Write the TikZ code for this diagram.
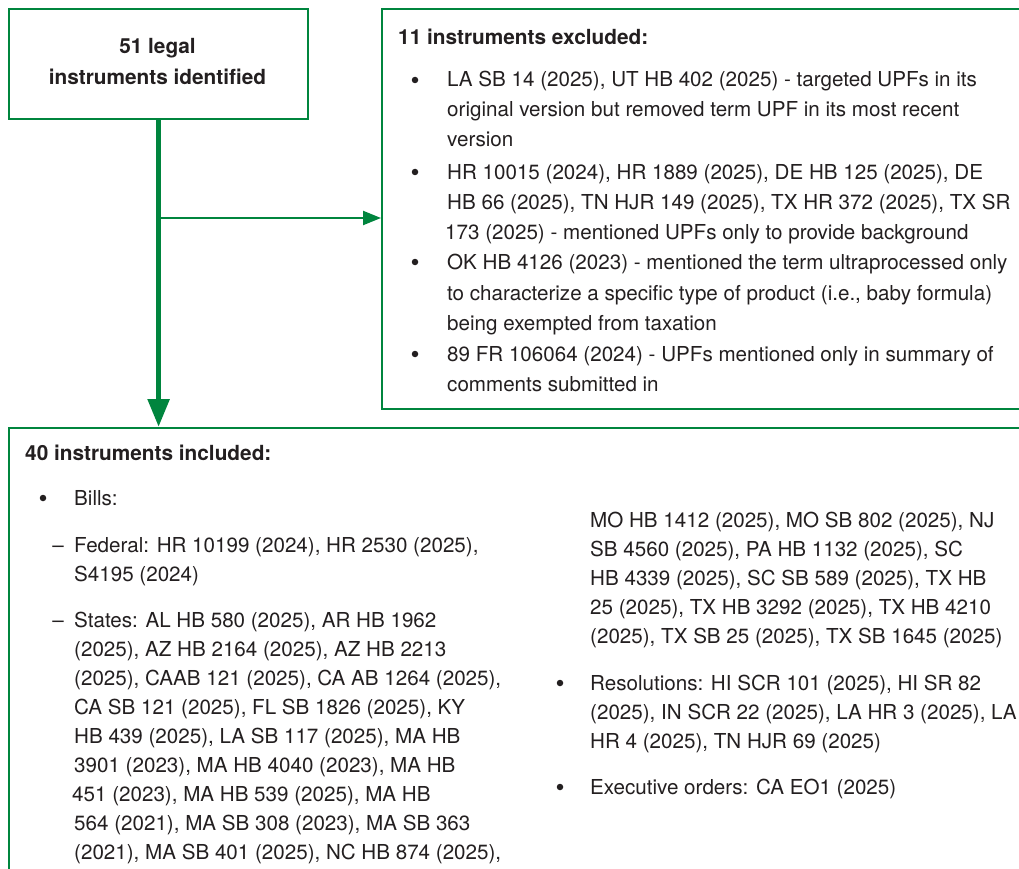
\documentclass[tikz,border=0pt]{standalone}
\usepackage{fontspec}
\setmainfont{TeX Gyre Heros}
\usetikzlibrary{arrows.meta}
\definecolor{boxgreen}{RGB}{0,133,62}
\definecolor{ink}{RGB}{35,31,32}
\newcommand\bodyfont{\fontsize{20.6}{24}\selectfont}
\newcommand\titlefont{\fontsize{20.8}{24}\selectfont\bfseries}
\tikzset{
  box/.style={draw=boxgreen, line width=2.2pt, inner sep=0pt, anchor=north west},
  txt/.style={anchor=base west, inner sep=0pt, font=\bodyfont, text=ink},
  ttl/.style={anchor=base west, inner sep=0pt, font=\titlefont, text=ink},
  bulletsym/.style={circle, fill=ink, inner sep=0pt, minimum size=6.5pt},
  dashsym/.style={anchor=base, inner sep=0pt, font=\bodyfont, text=ink},
  mainarrow/.style={draw=boxgreen, line width=5.5pt, -{Triangle[length=28pt,width=21pt]}},
  sidearrow/.style={draw=boxgreen, line width=2.2pt, -{Triangle[length=18pt,width=14pt]}}
}
\begin{document}
\begin{tikzpicture}[x=1pt,y=-1pt]
\useasboundingbox (0,0) rectangle (1019,869);
\clip (0,0) rectangle (1019,869);
\fill[white] (0,0) rectangle (1019,869);

% boxes
\node[box, minimum width=299pt, minimum height=110pt] (ident) at (8,8) {};
\node[box, minimum width=700pt, minimum height=400pt] (excl) at (381,8) {};
\node[box, minimum width=1100pt, minimum height=500pt] (incl) at (8,427) {};

% identified text
\node[anchor=base, inner sep=0pt, font=\titlefont, text=ink] (id1) at (157.5,54) {51 legal};
\node[anchor=base, inner sep=0pt, font=\titlefont, text=ink] (id2) at (157.5,85) {instruments identified};

% connectors
\coordinate (lvl) at (0,218);
\coordinate (branch) at (ident.south |- lvl);
\draw[mainarrow] (ident.south) -- (ident.south |- incl.north);
\draw[sidearrow] (branch) -- (branch -| excl.west);

% excluded text
\node[ttl] (et) at (398,45) {11 instruments excluded:};
\node[bulletsym] (eb1) at (415,80) {};
\node[bulletsym] (eb2) at (415,172) {};
\node[bulletsym] (eb3) at (415,262) {};
\node[bulletsym] (eb4) at (415,354) {};
\node[txt] (e1) at (447,87) {LA SB 14 (2025), UT HB 402 (2025) - targeted UPFs in its};
\node[txt] (e2) at (447,117) {original version but removed term UPF in its most recent};
\node[txt] (e3) at (447,147) {version};
\node[txt] (e4) at (447,179) {HR 10015 (2024), HR 1889 (2025), DE HB 125 (2025), DE};
\node[txt] (e5) at (447,209) {HB 66 (2025), TN HJR 149 (2025), TX HR 372 (2025), TX SR};
\node[txt] (e6) at (445,239) {173 (2025) - mentioned UPFs only to provide background};
\node[txt] (e7) at (447,269) {OK HB 4126 (2023) - mentioned the term ultraprocessed only};
\node[txt] (e8) at (447,300) {to characterize a specific type of product (i.e., baby formula)};
\node[txt] (e9) at (447,330) {being exempted from taxation};
\node[txt] (e10) at (447,361) {89 FR 106064 (2024) - UPFs mentioned only in summary of};
\node[txt] (e11) at (447,391) {comments submitted in};

% included text
\node[ttl] (it) at (25,460) {40 instruments included:};
\node[bulletsym] (ib1) at (43,498) {};
\node[txt] (i1) at (74,505) {Bills:};
\node[dashsym] (id1m) at (58,552) {–};
\node[txt] (i2) at (74,552) {Federal: HR 10199 (2024), HR 2530 (2025),};
\node[txt] (i3) at (74,581) {S4195 (2024)};
\node[dashsym] (id2m) at (58,627) {–};
\node[txt] (i4) at (74,627) {States: AL HB 580 (2025), AR HB 1962};
\node[txt] (i5) at (74,656) {(2025), AZ HB 2164 (2025), AZ HB 2213};
\node[txt] (i6) at (74,685) {(2025), CAAB 121 (2025), CA AB 1264 (2025),};
\node[txt] (i7) at (74,714) {CA SB 121 (2025), FL SB 1826 (2025), KY};
\node[txt] (i8) at (74,743) {HB 439 (2025), LA SB 117 (2025), MA HB};
\node[txt] (i9) at (74,772) {3901 (2023), MA HB 4040 (2023), MA HB};
\node[txt] (i10) at (72,801) {451 (2023), MA HB 539 (2025), MA HB};
\node[txt] (i11) at (74,830) {564 (2021), MA SB 308 (2023), MA SB 363};
\node[txt] (i12) at (74,859) {(2021), MA SB 401 (2025), NC HB 874 (2025),};

\node[txt] (r1) at (590,527) {MO HB 1412 (2025), MO SB 802 (2025), NJ};
\node[txt] (r2) at (590,556) {SB 4560 (2025), PA HB 1132 (2025), SC};
\node[txt] (r3) at (590,585) {HB 4339 (2025), SC SB 589 (2025), TX HB};
\node[txt] (r4) at (590,614) {25 (2025), TX HB 3292 (2025), TX HB 4210};
\node[txt] (r5) at (590,643) {(2025), TX SB 25 (2025), TX SB 1645 (2025)};
\node[bulletsym] (rb1) at (560,683) {};
\node[txt] (r6) at (590,690) {Resolutions: HI SCR 101 (2025), HI SR 82};
\node[txt] (r7) at (590,719) {(2025), IN SCR 22 (2025), LA HR 3 (2025), LA};
\node[txt] (r8) at (590,748) {HR 4 (2025), TN HJR 69 (2025)};
\node[bulletsym] (rb2) at (560,787) {};
\node[txt] (r9) at (590,794) {Executive orders: CA EO1 (2025)};
\end{tikzpicture}
\end{document}
